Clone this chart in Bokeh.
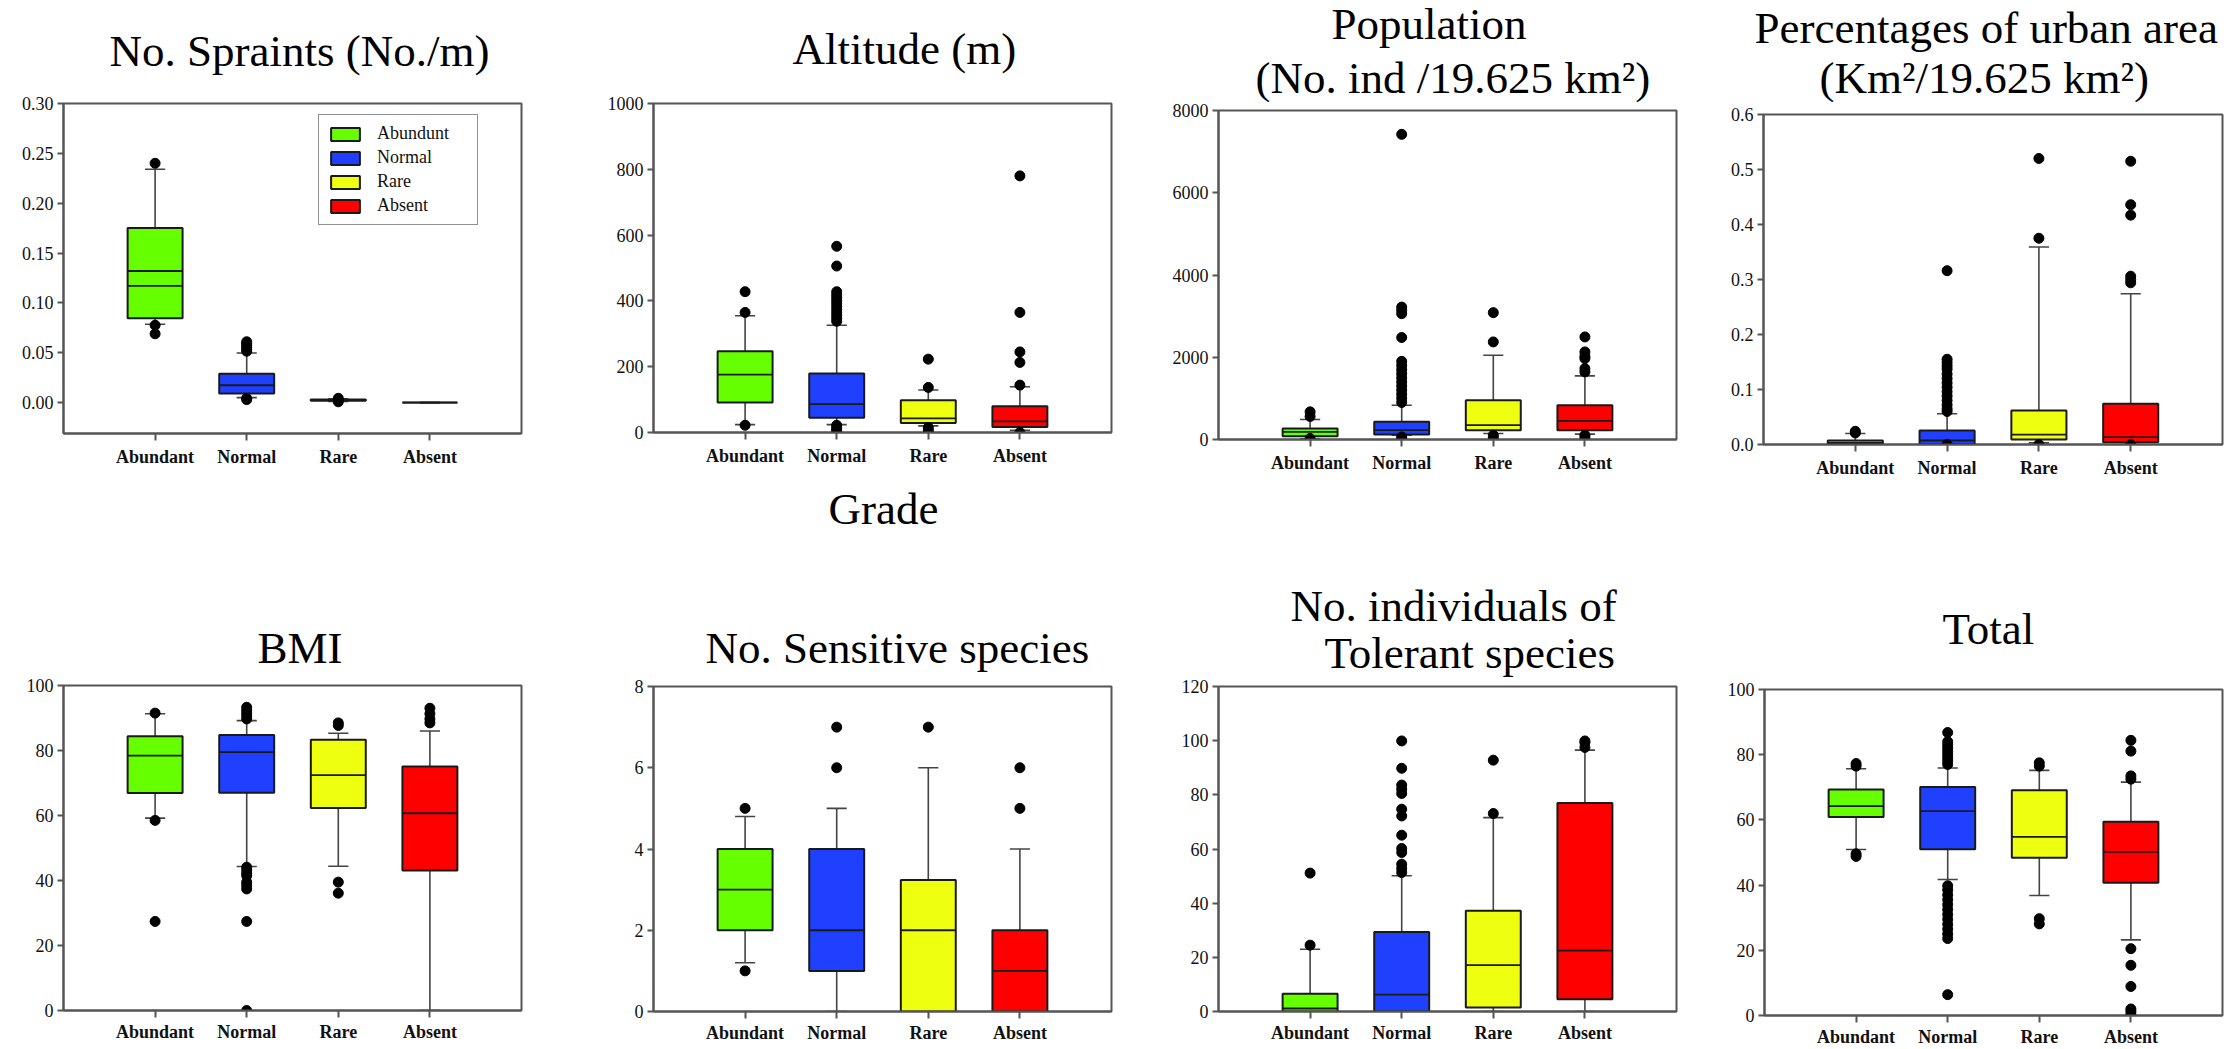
from bokeh.plotting import figure
from bokeh.layouts import row, column
from bokeh.models import Range1d, FixedTicker, NumeralTickFormatter, Legend, LegendItem
from bokeh.core.properties import value
from bokeh.embed import file_html
from bokeh.resources import INLINE

FONT = "Liberation Serif"

categories = ["Abundant", "Normal", "Rare", "Absent"]
legend_labels = ["Abundunt", "Normal", "Rare", "Absent"]
colors = ["#66FF00", "#2040FF", "#EEFF10", "#FF0000"]

# ---- No. Spraints (No./m)
spr_lo = [0.0786, 0.0050, 0.0012, 0.0]
spr_q1 = [0.0846, 0.0090, 0.0018, 0.0]
spr_med = [0.117, 0.0174, 0.0025, 0.0]
spr_q3 = [0.175, 0.029, 0.0032, 0.0]
spr_hi = [0.234, 0.0498, 0.0038, 0.0]
spr_mean = [0.132, None, None, None]
spr_out = [[0.240, 0.0776, 0.069],
           [0.0515, 0.0535, 0.0555, 0.0575, 0.0595, 0.061, 0.0042, 0.003],
           [0.0043, 0.0025, 0.0008], []]

# ---- Altitude (m)
alt_lo = [24, 24, 20, 7]
alt_q1 = [91, 45, 29, 17]
alt_med = [176, 86, 43, 34]
alt_q3 = [247, 179, 98, 80]
alt_hi = [355, 326, 129, 139]
alt_mean = [None, None, None, None]
alt_out = [[428, 365, 22],
           [566, 506, 428, 419, 410, 401, 392, 383, 374, 365, 356, 347, 338, 22, 15, 8, 3],
           [223, 137, 15, 7, 0],
           [780, 365, 245, 213, 144, 0]]

# ---- Population (No. ind /19.625 km2)
pop_lo = [20, 105, 146, 130]
pop_q1 = [81, 121, 227, 227]
pop_med = [186, 227, 348, 453]
pop_q3 = [267, 429, 955, 834]
pop_hi = [486, 834, 2049, 1547]
pop_mean = [None, None, None, None]
pop_out = [[672, 560, 24],
           [7420, 3220, 3140, 3060, 2480, 1900, 1800, 1700, 1600, 1500, 1400, 1300, 1200,
            1100, 1000, 900, 60, 20],
           [3085, 2372, 105, 49],
           [2494, 2130, 2024, 1968, 1725, 1644, 105, 49]]

# ---- Percentages of urban area
urb_lo = [0.0, 0.0, 0.003, 0.0]
urb_q1 = [0.001, 0.0005, 0.009, 0.004]
urb_med = [0.003, 0.0073, 0.018, 0.0134]
urb_q3 = [0.0073, 0.0256, 0.062, 0.0743]
urb_hi = [0.020, 0.056, 0.359, 0.274]
urb_mean = [None, None, None, None]
urb_out = [[0.024, 0.021],
           [0.316, 0.155, 0.149, 0.143, 0.137, 0.128, 0.120, 0.112, 0.104, 0.096, 0.088,
            0.080, 0.072, 0.065, 0.060, 0.0],
           [0.520, 0.375, 0.0],
           [0.515, 0.436, 0.417, 0.306, 0.300, 0.294, 0.0]]

# ---- BMI
bmi_lo = [59.2, 44.3, 44.4, 0]
bmi_q1 = [66.9, 67.0, 62.3, 43.1]
bmi_med = [78.4, 79.5, 72.4, 60.7]
bmi_q3 = [84.4, 84.8, 83.3, 75.1]
bmi_hi = [91.3, 89.2, 85.3, 86.0]
bmi_mean = [None, None, None, None]
bmi_out = [[91.5, 58.5, 27.4],
           [93.3, 92.4, 91.5, 90.6, 89.7, 44.1, 43.2, 42.2, 41.5, 39.5, 38.5, 37.4, 27.4, 0],
           [88.5, 87.7, 39.5, 36.1],
           [93.0, 91.3, 89.7, 88.5]]

# ---- No. Sensitive species
sen_lo = [1.2, 0, 0, 0]
sen_q1 = [2, 1, 0, 0]
sen_med = [3, 2, 2, 1]
sen_q3 = [4, 4, 3.24, 2]
sen_hi = [4.8, 5, 6, 4]
sen_mean = [None, None, None, None]
sen_out = [[5, 1], [7, 6], [7], [6, 5]]

# ---- No. individuals of Tolerant species
tol_lo = [0, 0, 0, 0]
tol_q1 = [0, 0, 1.5, 4.5]
tol_med = [1.1, 6.2, 17.1, 22.5]
tol_q3 = [6.6, 29.4, 37.2, 77.0]
tol_hi = [23.0, 50.1, 71.6, 96.5]
tol_mean = [None, None, None, None]
tol_out = [[51.1, 24.5],
           [99.9, 89.8, 83.6, 82.1, 80.5, 74.7, 72.2, 65.1, 60.2, 58.7, 54.4, 52.8, 51.3],
           [92.8, 73.1],
           [99.9, 99.3, 97.5]]

# ---- Total
tot_lo = [50.9, 41.7, 36.8, 23.2]
tot_q1 = [60.9, 51.0, 48.4, 40.7]
tot_med = [64.2, 62.7, 54.8, 50.2]
tot_q3 = [69.3, 70.1, 69.1, 59.4]
tot_hi = [75.7, 75.9, 75.2, 71.6]
tot_mean = [None, None, None, None]
tot_out = [[77.3, 76.5, 49.6, 48.8],
           [86.8, 84.0, 83.0, 82.0, 81.0, 80.0, 79.0, 78.0, 77.0, 39.8, 38.5, 37.0, 35.5,
            34.0, 32.5, 31.0, 29.5, 28.0, 26.5, 25.0, 23.6, 6.4],
           [77.5, 76.5, 29.7, 28.1],
           [84.4, 81.1, 73.5, 72.5, 20.5, 15.4, 8.9, 2.0, 1.2, 0.3]]

FRAME = "#555555"
BOX_W = 0.6
CAP_W = 0.22
TITLE_SIZE = "45px"
BASE_FIX = 15   # text engine draws the alphabetic baseline this much lower


def make_panel(w, h, L, R, T, B, yr, yticks, fmt, stats, cat_standoff=6):
    lo, q1, med, q3, hi, mean, outs = stats
    p = figure(width=w, height=h, x_range=Range1d(0, 5), y_range=Range1d(*yr),
               output_backend="svg", toolbar_location=None, frame_align=False,
               min_border_left=L, min_border_right=R, min_border_top=T, min_border_bottom=B)
    p.grid.visible = False
    p.outline_line_color = FRAME
    p.outline_line_width = 2
    p.background_fill_color = "white"
    p.border_fill_color = "white"

    xa = p.xaxis[0]
    xa.ticker = FixedTicker(ticks=[1, 2, 3, 4])
    xa.major_label_overrides = {i + 1: c for i, c in enumerate(categories)}
    xa.major_tick_out = 7
    xa.major_tick_in = 0
    xa.minor_tick_line_color = None
    xa.axis_line_color = FRAME
    xa.axis_line_width = 2
    xa.major_tick_line_color = FRAME
    xa.major_tick_line_width = 2
    xa.major_label_text_font = FONT
    xa.major_label_text_font_style = "bold"
    xa.major_label_text_font_size = "18px"
    xa.major_label_text_color = "#111111"
    xa.major_label_standoff = cat_standoff

    ya = p.yaxis[0]
    ya.ticker = FixedTicker(ticks=yticks)
    ya.formatter = NumeralTickFormatter(format=fmt)
    ya.major_tick_out = 6
    ya.major_tick_in = 0
    ya.minor_tick_line_color = None
    ya.axis_line_color = FRAME
    ya.axis_line_width = 2
    ya.major_tick_line_color = FRAME
    ya.major_tick_line_width = 2
    ya.major_label_text_font = FONT
    ya.major_label_text_font_size = "18px"
    ya.major_label_text_color = "#111111"
    ya.major_label_standoff = 4

    xs = [i + 1 for i in range(len(categories))]
    p.segment(x0=xs, y0=lo, x1=xs, y1=q1, line_color="#444444", line_width=1.6)
    p.segment(x0=xs, y0=q3, x1=xs, y1=hi, line_color="#444444", line_width=1.6)
    p.segment(x0=[x - CAP_W / 2 for x in xs], y0=lo, x1=[x + CAP_W / 2 for x in xs], y1=lo,
              line_color="#444444", line_width=1.6)
    p.segment(x0=[x - CAP_W / 2 for x in xs], y0=hi, x1=[x + CAP_W / 2 for x in xs], y1=hi,
              line_color="#444444", line_width=1.6)
    boxes = []
    for i, x in enumerate(xs):
        r = p.vbar(x=[x], width=BOX_W, bottom=[q1[i]], top=[q3[i]], fill_color=colors[i],
                   line_color="#1a1a1a", line_width=2)
        boxes.append(r)
    p.segment(x0=[x - BOX_W / 2 for x in xs], y0=med, x1=[x + BOX_W / 2 for x in xs], y1=med,
              line_color="#1a1a1a", line_width=1.8)
    mx = [x for x, m in zip(xs, mean) if m is not None]
    my = [m for m in mean if m is not None]
    if mx:
        p.segment(x0=[x - BOX_W / 2 for x in mx], y0=my, x1=[x + BOX_W / 2 for x in mx], y1=my,
                  line_color="#1a1a1a", line_width=1.8)
    ox, oy = [], []
    for i, vals in enumerate(outs):
        for v in vals:
            ox.append(xs[i])
            oy.append(v)
    p.scatter(x=ox, y=oy, size=10, fill_color="black", line_color="black")
    return p, boxes


def make_strip(w, h, texts):
    """A text-only strip (pixel coordinates, y downward) holding panel titles.
    texts: (text, left x, baseline y) in the strip's own pixels."""
    s = figure(width=w, height=h, x_range=Range1d(0, w), y_range=Range1d(h, 0),
               output_backend="svg", toolbar_location=None, frame_align=False,
               x_axis_type=None, y_axis_type=None, min_border=0,
               min_border_left=0, min_border_right=0, min_border_top=0, min_border_bottom=0)
    s.grid.visible = False
    s.outline_line_color = None
    s.background_fill_color = "white"
    s.border_fill_color = "white"
    s.text(x=[t[1] for t in texts], y=[t[2] - BASE_FIX for t in texts], text=[t[0] for t in texts],
           text_font=value(FONT), text_font_size=TITLE_SIZE, text_color="black",
           text_align="left", text_baseline="alphabetic")
    return s


# ----- column 1 (x0 = 0)
s1a = make_strip(590, 85, [("No. Spraints (No./m)", 109, 65)])
p1, boxes1 = make_panel(590, 398, 63, 69, 18, 50, (-0.031, 0.30),
                        [0, 0.05, 0.10, 0.15, 0.20, 0.25, 0.30], "0.00",
                        (spr_lo, spr_q1, spr_med, spr_q3, spr_hi, spr_mean, spr_out))
legend = Legend(items=[LegendItem(label=legend_labels[i], renderers=[boxes1[i]]) for i in range(4)],
                location=(255, 208))
legend.border_line_color = "#222222"
legend.border_line_width = 1.5
legend.label_text_font = FONT
legend.label_text_font_size = "18px"
legend.label_text_color = "#111111"
legend.glyph_width = 36
legend.glyph_height = 16
legend.label_height = 18
legend.label_width = 92
legend.spacing = 3
legend.padding = 8
legend.margin = 0
legend.label_standoff = 14
legend.background_fill_alpha = 1.0
p1.add_layout(legend)
s1b = make_strip(590, 189, [("BMI", 257, 179)])
p5, _ = make_panel(590, 377, 63, 69, 13, 39, (0, 100),
                   [0, 20, 40, 60, 80, 100], "0",
                   (bmi_lo, bmi_q1, bmi_med, bmi_q3, bmi_hi, bmi_mean, bmi_out), cat_standoff=4)

# ----- column 2 (x0 = 590)
s2a = make_strip(570, 85, [("Altitude (m)", 202, 63)])
p2, _ = make_panel(570, 398, 63, 49, 18, 51, (0, 1000),
                   [0, 200, 400, 600, 800, 1000], "0",
                   (alt_lo, alt_q1, alt_med, alt_q3, alt_hi, alt_mean, alt_out))
s2b = make_strip(570, 195, [("Grade", 238, 40), ("No. Sensitive species", 115, 179)])
p6, _ = make_panel(570, 371, 63, 49, 8, 38, (0, 8),
                   [0, 2, 4, 6, 8], "0",
                   (sen_lo, sen_q1, sen_med, sen_q3, sen_hi, sen_mean, sen_out), cat_standoff=4)

# ----- column 3 (x0 = 1160)
s3a = make_strip(550, 102, [("Population", 171, 38), ("(No. ind /19.625 km\u00b2)", 95, 92)])
p3, _ = make_panel(550, 381, 58, 34, 8, 44, (0, 8000),
                   [0, 2000, 4000, 6000, 8000], "0",
                   (pop_lo, pop_q1, pop_med, pop_q3, pop_hi, pop_mean, pop_out))
s3b = make_strip(550, 195, [("No. individuals of", 130, 137), ("Tolerant species", 164, 184)])
p7, _ = make_panel(550, 371, 58, 34, 8, 38, (0, 120),
                   [0, 20, 40, 60, 80, 100, 120], "0",
                   (tol_lo, tol_q1, tol_med, tol_q3, tol_hi, tol_mean, tol_out), cat_standoff=4)

# ----- column 4 (x0 = 1710)
s4a = make_strip(524, 102, [("Percentages of urban area", 44, 42), ("(Km\u00b2/19.625 km\u00b2)", 109, 92)])
p4, _ = make_panel(524, 381, 53, 12, 12, 39, (0, 0.6),
                   [0, 0.1, 0.2, 0.3, 0.4, 0.5, 0.6], "0.0",
                   (urb_lo, urb_q1, urb_med, urb_q3, urb_hi, urb_mean, urb_out))
s4b = make_strip(524, 195, [("Total", 232, 160)])
p8, _ = make_panel(524, 371, 54, 12, 11, 32, (0, 100),
                   [0, 20, 40, 60, 80, 100], "0",
                   (tot_lo, tot_q1, tot_med, tot_q3, tot_hi, tot_mean, tot_out), cat_standoff=4)

layout = row(column(s1a, p1, s1b, p5, spacing=0),
             column(s2a, p2, s2b, p6, spacing=0),
             column(s3a, p3, s3b, p7, spacing=0),
             column(s4a, p4, s4b, p8, spacing=0), spacing=0)

open("out.html", "w").write(file_html(layout, INLINE))
